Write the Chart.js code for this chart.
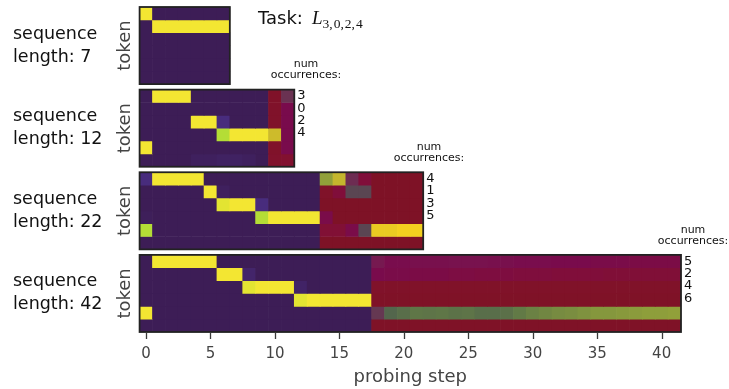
<!DOCTYPE html>
<html><head><meta charset="utf-8">
<script src="https://cdn.jsdelivr.net/npm/chart.js@4"></script>
<style>html,body{margin:0;padding:0;background:#fff;}canvas{display:block;}</style>
</head><body>
<canvas id="c" width="729" height="389"></canvas>
<script>
// ---------------- data ----------------
const sequenceLengths = [7, 12, 22, 42];
const tokenPhaseLengths = [7, 10, 14, 18];
const xTicks = [0, 5, 10, 15, 20, 25, 30, 35, 40];
const countRowLabels12 = ['3', '0', '2', '4'];
const countRowLabels22 = ['4', '1', '3', '5'];
const countRowLabels42 = ['5', '2', '4', '6'];
const taskSubscript = ['3', '0', '2', '4'];

// token-phase probabilities (rows = token, cols = probing step)
const tokenProbs7 = [
  [1, 0, 0, 0, 0, 0, 0],
  [0, 1, 1, 1, 1, 1, 1],
  [0, 0, 0, 0, 0, 0, 0],
  [0, 0, 0, 0, 0, 0, 0],
  [0, 0, 0, 0, 0, 0, 0],
  [0, 0, 0, 0, 0, 0, 0]
];
const tokenProbs12 = [
  [0, 1, 1, 1, 0, 0, 0, 0, 0, 0],
  [0, 0, 0, 0, 0, 0, 0, 0, 0, 0],
  [0, 0, 0, 0, 1, 1, 0.1, 0, 0, 0],
  [0, 0, 0, 0, 0, 0, 0.88, 1, 1, 1],
  [1, 0, 0, 0, 0, 0, 0, 0, 0, 0],
  [0, 0, 0, 0, 0.02, 0.02, 0.03, 0.03, 0.02, 0]
];
const tokenProbs22 = [
  [0.1, 1, 1, 1, 1, 0, 0, 0, 0, 0, 0, 0, 0, 0],
  [0, 0, 0, 0, 0, 1, 0.02, 0, 0, 0, 0, 0, 0, 0],
  [0, 0, 0, 0, 0, 0, 0.97, 1, 1, 0.1, 0, 0, 0, 0],
  [0.01, 0, 0, 0, 0, 0, 0, 0, 0, 0.88, 1, 1, 1, 1],
  [0.88, 0, 0, 0, 0, 0, 0, 0, 0, 0, 0, 0, 0, 0],
  [0, 0, 0, 0, 0, 0, 0, 0, 0, 0, 0, 0, 0, 0]
];
const tokenProbs42 = [
  [0, 1, 1, 1, 1, 1, 0, 0, 0, 0, 0, 0, 0, 0, 0, 0, 0, 0],
  [0, 0, 0, 0, 0, 0, 1, 1, 0.05, 0, 0, 0, 0, 0, 0, 0, 0, 0],
  [0, 0, 0, 0, 0, 0, 0, 0, 0.97, 1, 1, 1, 0.04, 0, 0, 0, 0, 0],
  [0, 0, 0, 0, 0, 0, 0, 0, 0, 0, 0, 0, 0.97, 1, 1, 1, 1, 1],
  [1, 0, 0, 0, 0, 0, 0, 0, 0, 0, 0, 0, 0, 0, 0, 0, 0, 0],
  [0, 0, 0, 0, 0, 0, 0, 0, 0, 0, 0, 0, 0, 0, 0, 0, 0, 0]
];

// counting-phase probabilities
const countProbs12 = [
  [0.02, 0.3],
  [0.03, 0.16],
  [0.03, 0.16],
  [0.9, 0.16],
  [0.03, 0.16],
  [0.04, 0.06]
];
const countProbs22 = [
  [0.76, 0.88, 0.28, 0.1, 0, 0, 0, 0],
  [0.02, 0.1, 0.37, 0.37, 0, 0, 0, 0],
  [0, 0, 0, 0, 0, 0, 0, 0],
  [0.15, 0, 0, 0, 0, 0, 0, 0],
  [0.08, 0.08, 0.15, 0.37, 0.97, 0.97, 0.99, 0.99],
  [0, 0, 0, 0, 0, 0, 0, 0]
];
const countProbs42 = [
  [0.22, 0.17, 0.17, 0.18, 0.18, 0.18, 0.19, 0.19, 0.19, 0.18, 0.18, 0.17, 0.17, 0.17, 0.16, 0.16, 0.16, 0.15, 0.15, 0.15, 0.14, 0.14, 0.14, 0.14],
  [0.16, 0.15, 0.15, 0.14, 0.14, 0.14, 0.13, 0.13, 0.12, 0.12, 0.12, 0.11, 0.11, 0.11, 0.1, 0.1, 0.1, 0.1, 0.09, 0.09, 0.09, 0.09, 0.09, 0.09],
  [0.03, 0.02, 0.02, 0.02, 0.02, 0.02, 0.02, 0.02, 0.02, 0.02, 0.02, 0.02, 0.02, 0.02, 0.02, 0.02, 0.02, 0.02, 0.02, 0.02, 0.02, 0.02, 0.02, 0.02],
  [0.01, 0.01, 0.01, 0.01, 0.01, 0.01, 0.01, 0.01, 0.01, 0.01, 0.01, 0.01, 0.01, 0.01, 0.01, 0.01, 0.01, 0.01, 0.01, 0.01, 0.01, 0.01, 0.01, 0.01],
  [0.32, 0.5, 0.54, 0.58, 0.57, 0.58, 0.56, 0.57, 0.54, 0.54, 0.55, 0.6, 0.63, 0.65, 0.67, 0.68, 0.7, 0.72, 0.72, 0.73, 0.74, 0.75, 0.75, 0.76],
  [0.01, 0.01, 0.01, 0.01, 0.01, 0.01, 0.01, 0.01, 0.01, 0.01, 0.01, 0.01, 0.01, 0.01, 0.01, 0.01, 0.01, 0.01, 0.01, 0.01, 0.01, 0.01, 0.01, 0.01]
];

// ---------------- styling ----------------
const tokenStops = [
  [0, [61, 29, 86]], [0.1, [72, 44, 125]], [0.3, [50, 100, 142]], [0.5, [33, 145, 140]],
  [0.7, [80, 195, 105]], [0.85, [165, 218, 60]], [0.9, [190, 223, 50]], [1, [243, 230, 50]]
];
const countStops = [
  [0, [126, 18, 38]], [0.05, [130, 18, 45]], [0.1, [128, 14, 58]], [0.16, [121, 11, 76]],
  [0.22, [118, 25, 80]], [0.3, [106, 50, 82]], [0.37, [90, 70, 82]], [0.5, [83, 102, 76]],
  [0.6, [98, 122, 70]], [0.76, [145, 160, 58]], [0.88, [196, 182, 45]], [1, [247, 210, 30]]
];
function cmap(stops, v) {
  v = Math.max(0, Math.min(1, v));
  for (let i = 1; i < stops.length; i++) {
    if (v <= stops[i][0]) {
      const [a, ca] = stops[i - 1], [b, cb] = stops[i];
      const t = (v - a) / (b - a);
      const c = ca.map((x, k) => Math.round(x + (cb[k] - x) * t));
      return `rgb(${c[0]},${c[1]},${c[2]})`;
    }
  }
  const c = stops[stops.length - 1][1];
  return `rgb(${c[0]},${c[1]},${c[2]})`;
}

const SLOT = 6.43; // rows per panel slot (6 rows + gap)
const panels = [
  { len: sequenceLengths[0], T: tokenPhaseLengths[0], tok: tokenProbs7, cnt: null, labels: [], numX: null },
  { len: sequenceLengths[1], T: tokenPhaseLengths[1], tok: tokenProbs12, cnt: countProbs12, labels: countRowLabels12, numX: 306 },
  { len: sequenceLengths[2], T: tokenPhaseLengths[2], tok: tokenProbs22, cnt: countProbs22, labels: countRowLabels22, numX: 429 },
  { len: sequenceLengths[3], T: tokenPhaseLengths[3], tok: tokenProbs42, cnt: countProbs42, labels: countRowLabels42, numX: 693 }
];

const datasets = [];
panels.forEach((pn, p) => {
  for (let r = 0; r < 6; r++) {
    const data = [], colors = [];
    const yc = p * SLOT + r;
    pn.tok[r].forEach((v, c) => { data.push({ x: c, y: [yc - 0.5, yc + 0.5] }); colors.push(cmap(tokenStops, v)); });
    if (pn.cnt) pn.cnt[r].forEach((v, c) => { data.push({ x: pn.T + c, y: [yc - 0.5, yc + 0.5] }); colors.push(cmap(countStops, v)); });
    datasets.push({ data, backgroundColor: colors, borderWidth: 0, barPercentage: 1, categoryPercentage: 1, grouped: false });
  }
});

const FONT = "'DejaVu Sans', sans-serif";
const decor = {
  id: 'decor',
  afterDraw(chart) {
    const ctx = chart.ctx, xs = chart.scales.x, ys = chart.scales.y;
    ctx.save();
    panels.forEach((pn, p) => {
      const x0 = xs.getPixelForValue(-0.5), x1 = xs.getPixelForValue(pn.len - 0.5);
      const y0 = ys.getPixelForValue(p * SLOT - 0.5), y1 = ys.getPixelForValue(p * SLOT + 5.5);
      ctx.strokeStyle = '#222'; ctx.lineWidth = 1.8;
      ctx.strokeRect(x0, y0, x1 - x0, y1 - y0);
      const yc = (y0 + y1) / 2;
      // sequence length label
      ctx.fillStyle = '#111'; ctx.font = `17.5px ${FONT}`; ctx.textAlign = 'left'; ctx.textBaseline = 'middle';
      ctx.fillText('sequence', 13, yc - 11.5);
      ctx.fillText('length: ' + pn.len, 13, yc + 11.5);
      // token axis title
      ctx.save(); ctx.translate(125, yc); ctx.rotate(-Math.PI / 2);
      ctx.fillStyle = '#444'; ctx.font = `18px ${FONT}`; ctx.textAlign = 'center'; ctx.textBaseline = 'middle';
      ctx.fillText('token', 0, 0); ctx.restore();
      // count labels
      if (pn.labels.length) {
        const yr0 = ys.getPixelForValue(p * SLOT);
        ctx.fillStyle = '#111'; ctx.font = `13px ${FONT}`; ctx.textAlign = 'left'; ctx.textBaseline = 'middle';
        pn.labels.forEach((t, i) => ctx.fillText(t, x1 + 3, yr0 + i * 12.3));
        ctx.font = `11px ${FONT}`; ctx.textAlign = 'center';
        ctx.fillText('num', pn.numX, y0 - 25);
        ctx.fillText('occurrences:', pn.numX, y0 - 14);
      }
    });
    // x tick marks below the bottom panel
    const yb = ys.getPixelForValue(3 * SLOT + 5.5);
    ctx.strokeStyle = '#3a3a3a'; ctx.lineWidth = 1.3;
    xTicks.forEach(v => {
      const px = Math.round(xs.getPixelForValue(v)) + 0.5;
      ctx.beginPath(); ctx.moveTo(px, yb + 1); ctx.lineTo(px, yb + 7); ctx.stroke();
    });
    // title
    ctx.fillStyle = '#111'; ctx.textAlign = 'left'; ctx.textBaseline = 'alphabetic';
    ctx.font = `18px ${FONT}`;
    ctx.fillText('Task:', 258, 24);
    ctx.font = "italic 19px 'Liberation Serif', serif";
    ctx.fillText('L', 312, 24);
    let sx = 312 + ctx.measureText('L').width;
    ctx.font = "13.5px 'Liberation Serif', serif";
    taskSubscript.forEach((t, i) => {
      ctx.fillText(t, sx, 28); sx += ctx.measureText(t).width;
      if (i < taskSubscript.length - 1) { ctx.fillText(',', sx, 28); sx += ctx.measureText(',').width + 1; }
    });
    ctx.restore();
  }
};

new Chart(document.getElementById('c'), {
  type: 'bar',
  data: { datasets },
  options: {
    responsive: false, animation: false,
    layout: { padding: { left: 139.6, right: 48, top: 7, bottom: 0 } },
    plugins: { legend: { display: false }, tooltip: { enabled: false } },
    scales: {
      x: {
        type: 'linear', min: -0.5, max: 41.5, offset: false,
        afterBuildTicks: s => { s.ticks = xTicks.map(v => ({ value: v })); },
        afterFit: s => { s.height = 57; },
        ticks: { color: '#444', font: { family: FONT, size: 15 }, padding: 5, maxRotation: 0, autoSkip: false },
        grid: { display: false },
        border: { display: false },
        title: { display: true, text: 'probing step', color: '#444', font: { family: FONT, size: 18 }, padding: { top: 0, bottom: 1 } }
      },
      y: { type: 'linear', reverse: true, min: -0.5, max: 3 * SLOT + 5.5, display: false }
    }
  },
  plugins: [decor]
});
</script>
</body></html>
